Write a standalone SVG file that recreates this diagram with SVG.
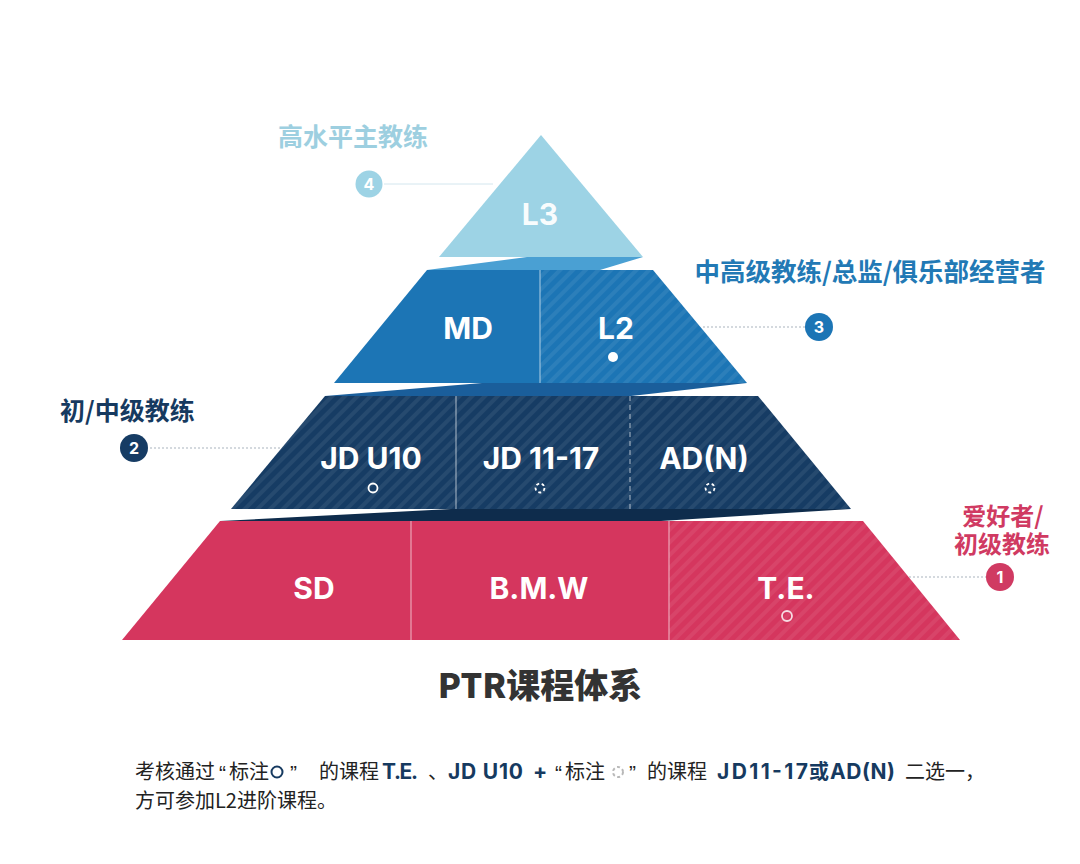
<svg xmlns="http://www.w3.org/2000/svg" width="1080" height="864" viewBox="0 0 1080 864">
<defs>
<pattern id="hatch" width="9" height="9" patternUnits="userSpaceOnUse" patternTransform="rotate(45)">
<rect x="0" y="0" width="4" height="9" fill="#ffffff" fill-opacity="0.07"/>
</pattern>
<style>
.tier{font-family:Inter,"Noto Sans",sans-serif;font-weight:700;font-size:30px;fill:#ffffff;text-anchor:middle}
.cat{font-family:"Noto Sans CJK SC",sans-serif;font-weight:700}
.num{font-family:Inter,"Noto Sans",sans-serif;font-weight:700;font-size:16px;fill:#ffffff;text-anchor:middle}
.body{font-family:"Noto Sans CJK SC",sans-serif;font-size:20px;fill:#222222}
.bold{font-family:Inter,"Noto Sans","Noto Sans CJK SC",sans-serif;font-weight:700;font-size:21px;fill:#163a60}
.q{font-family:"Liberation Sans",sans-serif;font-size:21px;fill:#222222}
.div{stroke:#ffffff;stroke-opacity:0.55;stroke-width:1.2;fill:none}
.lead{stroke:#a9b3bd;stroke-width:1;stroke-dasharray:2 2;fill:none}
</style>
</defs>
<rect width="1080" height="864" fill="#ffffff"/>

<g id="bands">
<polygon points="427,270 527,257 643,257 600,270" fill="#4aa0d3"/>
<polygon points="325,396 482,383 747,383 631,396" fill="#1a5e9b"/>
<polygon points="220,521 451,509 851,509 661,521" fill="#0e2c4c"/>
</g>

<g id="tier-L3">
<polygon points="541,135 643,257 439,257" fill="#9dd3e5"/>
<text class="tier" x="540" y="225" fill-opacity="0.95">L3</text>
</g>

<g id="tier-MD">
<polygon points="427,270 540,270 540,383 334,383" fill="#1c75b5"/>
<text class="tier" x="468" y="339">MD</text>
</g>
<g id="tier-L2">
<polygon points="540,270 653,270 747,383 540,383" fill="#1c75b5"/>
<polygon points="540,270 653,270 747,383 540,383" fill="url(#hatch)"/>
<text class="tier" x="616" y="339">L2</text>
<circle cx="613" cy="357" r="5" fill="#ffffff"/>
<line class="div" x1="540" y1="270" x2="540" y2="383"/>
</g>

<g id="tier-JD">
<polygon points="325,396 758,396 851,509 231,509" fill="#163c64"/>
<polygon points="325,396 758,396 851,509 231,509" fill="url(#hatch)"/>
<line class="div" x1="456" y1="396" x2="456" y2="509"/>
<line class="div" x1="630" y1="396" x2="630" y2="509" stroke-dasharray="5 4"/>
</g>
<g id="node-JDU10">
<text class="tier" x="371" y="469">JD U10</text>
<circle cx="373" cy="488" r="4.5" fill="none" stroke="#ffffff" stroke-width="1.8"/>
</g>
<g id="node-JD1117">
<text class="tier" x="541" y="469">JD 11-17</text>
<circle cx="540" cy="488" r="4.5" fill="none" stroke="#ffffff" stroke-width="1.8" stroke-dasharray="3 2.6"/>
</g>
<g id="node-ADN">
<text class="tier" x="704" y="469">AD(N)</text>
<circle cx="710" cy="488" r="4.5" fill="none" stroke="#ffffff" stroke-width="1.8" stroke-dasharray="3 2.6"/>
</g>

<g id="tier-pink">
<polygon points="220,521 863,521 960,640 122,640" fill="#d5365e"/>
<polygon points="669,521 863,521 960,640 669,640" fill="url(#hatch)"/>
<line class="div" x1="411" y1="521" x2="411" y2="640"/>
<line class="div" x1="669" y1="521" x2="669" y2="640"/>
</g>
<g id="node-SD"><text class="tier" x="314" y="599">SD</text></g>
<g id="node-BMW"><text class="tier" x="539" y="599">B.M.W</text></g>
<g id="node-TE">
<text class="tier" x="786" y="599">T.E.</text>
<circle cx="787" cy="616" r="5" fill="none" stroke="#f6dbe2" stroke-width="1.8"/>
</g>

<g id="connectors">
<line x1="384" y1="184" x2="493" y2="184" stroke="#d3e6ee" stroke-width="1"/>
<line class="lead" x1="703" y1="327" x2="805" y2="327"/>
<line class="lead" x1="150" y1="448" x2="281" y2="448"/>
<line class="lead" x1="909" y1="577" x2="986" y2="577"/>
</g>

<g id="label-4">
<text class="cat" x="278" y="146" style="font-size:25px" fill="#9dcfe0">高水平主教练</text>
<circle cx="369" cy="184" r="13.5" fill="#9dd3e5"/>
<text class="num" x="369" y="190">4</text>
</g>
<g id="label-3">
<text class="cat" x="870" y="281" style="font-size:25.5px" fill="#2279b5" text-anchor="middle">中高级教练/总监/俱乐部经营者</text>
<circle cx="819" cy="327" r="14" fill="#1c75b5"/>
<text class="num" x="819" y="333">3</text>
</g>
<g id="label-2">
<text class="cat" x="60" y="420" style="font-size:25px" fill="#163a60">初/中级教练</text>
<circle cx="134" cy="448" r="14" fill="#163c64"/>
<text class="num" x="134" y="454">2</text>
</g>
<g id="label-1">
<text class="cat" x="1003" y="525" style="font-size:24px" fill="#d03a62" text-anchor="middle">爱好者/</text>
<text class="cat" x="1002" y="553" style="font-size:24px" fill="#d03a62" text-anchor="middle">初级教练</text>
<circle cx="1000" cy="577" r="14" fill="#d03a62"/>
<text class="num" x="1000" y="583">1</text>
</g>

<g id="title">
<text x="540" y="698" text-anchor="middle" font-family="'Noto Sans CJK SC',sans-serif" font-weight="900" font-size="34" fill="#333333">PTR课程体系</text>
</g>

<g id="note">
<text class="body" x="135" y="779">考核通过</text>
<text class="q" x="219" y="780">“</text>
<text class="body" x="229" y="779">标注</text>
<circle cx="277" cy="772" r="5.5" fill="none" stroke="#163a60" stroke-width="2"/>
<text class="q" x="290" y="780">”</text>
<text class="body" x="319" y="779">的课程</text>
<text class="bold" x="382" y="779" textLength="36">T.E.</text>
<text class="body" x="428" y="779">、</text>
<text class="bold" x="448" y="779" textLength="75">JD U10</text>
<text class="bold" x="533" y="779">+</text>
<text class="q" x="555" y="780">“</text>
<text class="body" x="565" y="779">标注</text>
<circle cx="618" cy="772" r="5" fill="none" stroke="#b8b8b8" stroke-width="2" stroke-dasharray="3 2.5"/>
<text class="q" x="629" y="780">”</text>
<text class="body" x="647" y="779">的课程</text>
<text class="bold" x="717" y="779" textLength="91">JD11-17</text>
<text class="body" x="809" y="779" style="fill:#163a60;font-weight:700">或</text>
<text class="bold" x="830" y="779" textLength="65">AD(N)</text>
<text class="body" x="905" y="779">二选一，</text>
<text class="body" x="135" y="808">方可参加L2进阶课程。</text>
</g>
</svg>
